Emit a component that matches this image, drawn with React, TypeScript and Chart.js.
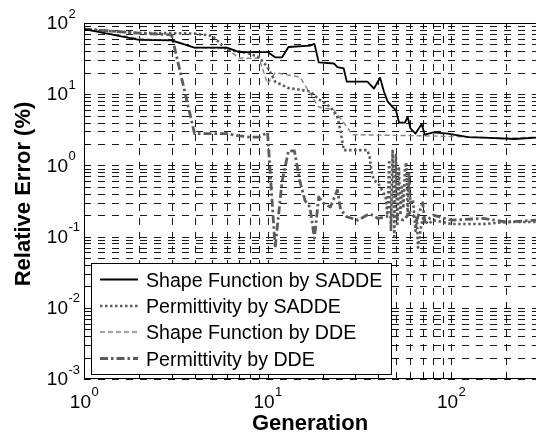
import React, { useEffect, useRef } from 'react';
import { Chart, registerables } from 'chart.js';

Chart.register(...registerables);

// ---------- data ----------
const shapeSaddeGen = [1, 2, 3, 4, 6, 7, 10, 11, 12, 13, 17, 18, 19, 23, 24, 26, 27, 35, 38, 41, 43, 45, 48, 50, 52, 56, 58, 60, 64, 69, 72, 80, 96, 124, 150, 223, 290];
const shapeSaddeErr = [82, 58, 57, 45, 45, 39, 39, 33, 33, 46, 48, 51, 28, 27, 24, 23, 15, 15, 12, 17, 11, 8, 6.6, 6, 4, 4, 4.8, 3.3, 2.8, 3.8, 2.7, 2.9, 2.8, 2.5, 2.45, 2.35, 2.45];

const permSaddeGen = [1, 2, 3, 4, 5, 6, 7, 8, 9, 10, 11, 13, 17, 19, 22, 24, 25, 26, 35, 36, 37, 38, 40, 42, 44, 45, 46, 47, 48, 49, 50, 51, 52, 53, 54, 55, 56, 57, 58, 59, 60, 62, 64, 65, 66, 68, 70, 75, 80, 90, 100, 150, 200, 290];
const permSaddeErr = [82, 72, 72, 71, 66, 42, 40, 37, 33, 24, 15, 12.2, 11, 8.5, 6.6, 4.8, 3, 1.64, 1.64, 1.3, 0.78, 0.62, 0.56, 0.45, 0.36, 0.2, 1.2, 0.12, 1.6, 0.1, 1.4, 0.15, 0.9, 0.2, 0.5, 0.25, 0.9, 1.1, 0.2, 0.8, 0.3, 0.33, 0.12, 0.19, 0.07, 0.12, 0.18, 0.15, 0.17, 0.16, 0.15, 0.15, 0.16, 0.16];

const shapeDdeGen = [1, 2, 3, 4, 6, 7, 9, 10, 11, 15, 17, 19, 23, 26, 29, 72, 100, 200, 290];
const shapeDdeErr = [82, 60, 57, 45, 44, 32, 32, 14, 20, 17.4, 10.4, 6.6, 6, 4, 2.7, 2.6, 2.55, 2.4, 2.5];

const permDdeGen = [1, 2, 3, 4, 5, 6, 7, 8, 9, 10, 11, 12, 13, 14, 15, 16, 17, 18, 19, 20, 22, 24, 25, 27, 31, 36, 40, 48, 55, 60, 65, 70, 72, 80, 100, 150, 200, 290];
const permDdeErr = [82, 72, 68, 2.8, 2.8, 2.8, 2.6, 2.5, 2.5, 2.9, 0.07, 0.6, 1.6, 1.6, 0.6, 0.32, 0.26, 0.095, 0.36, 0.3, 0.26, 0.45, 0.24, 0.19, 0.17, 0.21, 0.18, 0.2, 0.17, 0.22, 0.17, 0.3, 0.16, 0.2, 0.17, 0.18, 0.16, 0.17];

const seriesLabels = ['Shape Function by SADDE', 'Permittivity by SADDE', 'Shape Function by DDE', 'Permittivity by DDE'];

const xMajorTicks = [1, 10, 100];
const xTickExponents = ['0', '1', '2'];
const yMajorTicks = [0.001, 0.01, 0.1, 1, 10, 100];
const yTickExponents = ['-3', '-2', '-1', '0', '1', '2'];

const xTitle = 'Generation';
const yTitle = 'Relative Error (%)';

const X_MIN = 1;
const X_MAX = 290;
const Y_MIN = 0.001;
const Y_MAX = 100;

// ---------- styles ----------
const FONT = "'Liberation Sans', Arial, Helvetica, sans-serif";
const styles = [
  { color: '#000000', width: 1.8, dash: [] as number[] },
  { color: '#5c5c5c', width: 2.6, dash: [2.5, 2.5] },
  { color: '#858585', width: 1.4, dash: [5, 3] },
  { color: '#5c5c5c', width: 2.8, dash: [8, 3, 2.5, 3] },
];

function gridValues(majors: number[], min: number, max: number): number[] {
  const out: number[] = [];
  for (const m of majors) {
    for (let k = 1; k <= 9; k++) {
      const v = m * k;
      if (v >= min * 0.9999 && v <= max * 1.0001) out.push(v);
    }
  }
  return out;
}

const axesPlugin = {
  id: 'matlabAxes',
  beforeDatasetsDraw(chart: any) {
    const { ctx, chartArea: a, scales } = chart;
    const xs = scales.x;
    const ys = scales.y;
    ctx.save();
    ctx.strokeStyle = 'rgba(0,0,0,0.9)';
    ctx.lineWidth = 1;
    ctx.setLineDash([7, 7]);
    for (const v of gridValues(xMajorTicks, X_MIN, X_MAX)) {
      const px = Math.round(xs.getPixelForValue(v)) + 0.5;
      if (px < a.left || px > a.right) continue;
      ctx.beginPath();
      ctx.moveTo(px, a.bottom);
      ctx.lineTo(px, a.top);
      ctx.stroke();
    }
    for (const v of gridValues(yMajorTicks, Y_MIN, Y_MAX)) {
      const py = Math.round(ys.getPixelForValue(v)) + 0.5;
      ctx.beginPath();
      ctx.moveTo(a.left, py);
      ctx.lineTo(a.right, py);
      ctx.stroke();
    }
    ctx.restore();
  },
  afterDatasetsDraw(chart: any) {
    const { ctx, chartArea: a, scales } = chart;
    const xs = scales.x;
    const ys = scales.y;
    ctx.save();
    ctx.setLineDash([]);
    ctx.strokeStyle = '#000';
    ctx.lineWidth = 1;
    const L = Math.round(a.left) + 0.5;
    const T = Math.round(a.top) + 0.5;
    const B = Math.round(a.bottom) - 0.5;
    ctx.beginPath();
    ctx.moveTo(a.right, T);
    ctx.lineTo(L, T);
    ctx.lineTo(L, B);
    ctx.lineTo(a.right, B);
    ctx.stroke();
    const tl = 5;
    ctx.beginPath();
    for (const v of gridValues(xMajorTicks, X_MIN, X_MAX)) {
      const px = Math.round(xs.getPixelForValue(v)) + 0.5;
      ctx.moveTo(px, B);
      ctx.lineTo(px, B - tl);
      ctx.moveTo(px, T);
      ctx.lineTo(px, T + tl);
    }
    for (const v of gridValues(yMajorTicks, Y_MIN, Y_MAX)) {
      const py = Math.round(ys.getPixelForValue(v)) + 0.5;
      ctx.moveTo(L, py);
      ctx.lineTo(L + tl, py);
    }
    ctx.stroke();

    ctx.fillStyle = '#000';
    ctx.textBaseline = 'middle';
    yMajorTicks.forEach((v, i) => {
      const py = ys.getPixelForValue(v);
      ctx.font = `19px ${FONT}`;
      ctx.textAlign = 'right';
      ctx.fillText('10', 68, py + 1);
      ctx.font = `13px ${FONT}`;
      ctx.textAlign = 'left';
      ctx.fillText(yTickExponents[i], 68.5, py - 9);
    });
    xMajorTicks.forEach((v, i) => {
      const px = xs.getPixelForValue(v);
      ctx.font = `19px ${FONT}`;
      const wb = ctx.measureText('10').width;
      ctx.font = `13px ${FONT}`;
      const we = ctx.measureText(xTickExponents[i]).width;
      const start = px - (wb + we) / 2;
      ctx.textAlign = 'left';
      ctx.font = `19px ${FONT}`;
      ctx.fillText('10', start, 403);
      ctx.font = `13px ${FONT}`;
      ctx.fillText(xTickExponents[i], start + wb + 0.5, 392);
    });

    ctx.font = `bold 22px ${FONT}`;
    ctx.textAlign = 'center';
    ctx.fillText(xTitle, (a.left + a.right) / 2, 424);
    ctx.save();
    ctx.translate(24, 194);
    ctx.rotate(-Math.PI / 2);
    ctx.fillText(yTitle, 0, 0);
    ctx.restore();

    const lx = 91.5, ly = 263.5, lw = 300, lh = 111;
    ctx.fillStyle = '#fff';
    ctx.fillRect(lx, ly, lw, lh);
    ctx.strokeStyle = '#000';
    ctx.lineWidth = 1;
    ctx.strokeRect(lx, ly, lw, lh);
    const rows = [279.5, 306, 332, 358.5];
    seriesLabels.forEach((label, i) => {
      const st = styles[i];
      ctx.save();
      ctx.strokeStyle = st.color;
      ctx.lineWidth = st.width;
      ctx.setLineDash(st.dash);
      ctx.beginPath();
      ctx.moveTo(100, rows[i]);
      ctx.lineTo(138, rows[i]);
      ctx.stroke();
      ctx.restore();
      ctx.fillStyle = '#000';
      ctx.font = `19.6px ${FONT}`;
      ctx.textAlign = 'left';
      ctx.textBaseline = 'middle';
      ctx.fillText(label, 146, rows[i] + 2);
    });
    ctx.restore();
  },
};

function pts(gens: number[], vals: number[]) {
  return gens.map((g, i) => ({ x: g, y: vals[i] }));
}

export default function App() {
  const ref = useRef<HTMLCanvasElement>(null);
  useEffect(() => {
    const canvas = ref.current;
    if (!canvas) return;
    const series = [
      pts(shapeSaddeGen, shapeSaddeErr),
      pts(permSaddeGen, permSaddeErr),
      pts(shapeDdeGen, shapeDdeErr),
      pts(permDdeGen, permDdeErr),
    ];
    const chart = new Chart(canvas, {
      type: 'line',
      data: {
        datasets: series.map((d, i) => ({
          label: seriesLabels[i],
          data: d,
          borderColor: styles[i].color,
          borderWidth: styles[i].width,
          borderDash: styles[i].dash,
          borderCapStyle: 'butt',
          borderJoinStyle: 'round',
          pointRadius: 0,
          tension: 0,
          fill: false,
        })),
      },
      options: {
        responsive: false,
        maintainAspectRatio: false,
        animation: false,
        events: [],
        layout: { padding: { left: 84, top: 23, right: 0, bottom: 58 } },
        plugins: { legend: { display: false }, tooltip: { enabled: false } },
        scales: {
          x: { type: 'logarithmic', min: X_MIN, max: X_MAX, display: false },
          y: { type: 'logarithmic', min: Y_MIN, max: Y_MAX, display: false },
        },
      },
      plugins: [axesPlugin],
    } as any);
    return () => chart.destroy();
  }, []);
  return (
    <div style={{ position: 'fixed', left: 0, top: 0, width: 536, height: 437, background: '#fff' }}>
      <canvas ref={ref} width={536} height={437} style={{ width: 536, height: 437, display: 'block' }} />
    </div>
  );
}
